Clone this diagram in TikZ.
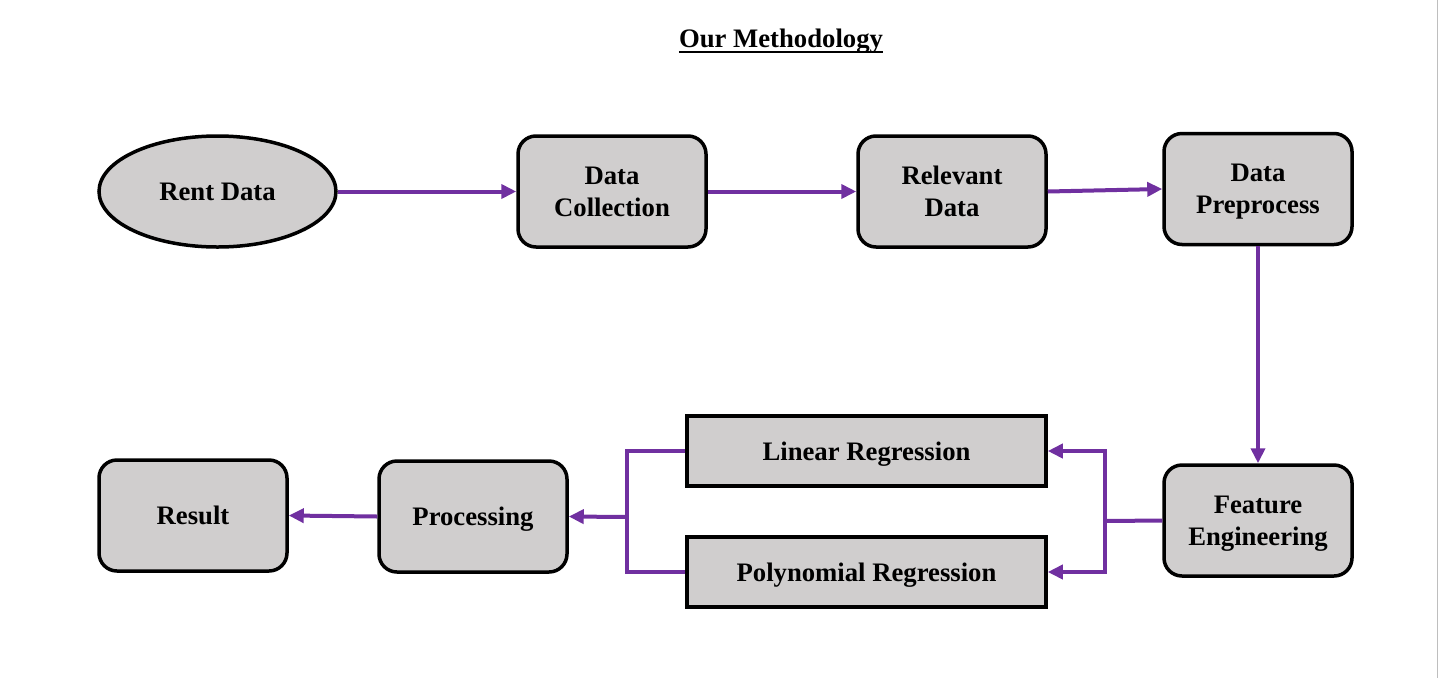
\documentclass[tikz,border=0pt]{standalone}
\usepackage{fontspec}
\setmainfont{Liberation Serif}
\usetikzlibrary{arrows.meta,shapes.geometric}
\definecolor{boxgray}{RGB}{208,206,206}
\definecolor{flowpurple}{RGB}{112,48,160}
\definecolor{edgegray}{RGB}{190,190,190}
\tikzset{
  every node/.style={font=\fontsize{26.7}{32}\selectfont\bfseries},
  stepbox/.style={draw=black, line width=3.5pt, fill=boxgray, rounded corners=18pt,
    minimum width=188pt, minimum height=111pt, align=center, inner sep=0pt, text depth=0pt},
  modelbox/.style={draw=black, line width=3.5pt, fill=boxgray,
    minimum width=359pt, minimum height=70pt, align=center, inner sep=0pt, text depth=0pt},
  startnode/.style={draw=black, line width=3.5pt, fill=boxgray, ellipse,
    minimum width=237pt, minimum height=111pt, inner sep=0pt},
  flow/.style={draw=flowpurple, line width=4pt, -{Triangle[length=15pt,width=14pt]}},
  flowline/.style={draw=flowpurple, line width=4pt},
}
\begin{document}
\begin{tikzpicture}[x=1pt,y=-1pt]
\useasboundingbox (0,0) rectangle (1439,678);
\draw[edgegray, line width=1.5pt] (1437.5,0) -- (1437.5,678);
% title
\node[inner sep=0pt, anchor=base] (title) at (781,47) {Our Methodology};
\draw[line width=2.5pt] ([yshift=-5pt]title.base west) -- ([yshift=-5pt]title.base east);
% nodes
\node[startnode] (rent) at (217.5,191.5) {Rent Data};
\node[stepbox] (coll) at (612,191.5) {Data\\Collection};
\node[stepbox] (rel) at (952,191.5) {Relevant\\Data};
\node[stepbox] (pre) at (1258,189) {Data\\Preprocess};
\node[stepbox] (feat) at (1258,520.5) {Feature\\Engineering};
\node[modelbox] (lin) at (866.5,451) {Linear Regression};
\node[modelbox] (poly) at (866.5,572) {Polynomial Regression};
\node[stepbox] (proc) at (473,516.5) {Processing};
\node[stepbox] (res) at (193,515.5) {Result};
% connectors
\draw[flow] (rent.east) -- (coll.west);
\draw[flow] (coll.east) -- (rel.west);
\draw[flow] (rel.east) -- (pre.west);
\draw[flow] (pre.south) -- (feat.north);
\coordinate (split) at (1105,521);
\draw[flowline] (feat.west) -- (split);
\draw[flow] (split) |- (lin.east);
\draw[flow] (split) |- (poly.east);
\coordinate (join) at (627,517);
\draw[flowline] (lin.west) -| (join);
\draw[flowline] (poly.west) -| (join);
\draw[flow] (join) -- (proc.east);
\draw[flow] (proc.west) -- (res.east);
\end{tikzpicture}
\end{document}
